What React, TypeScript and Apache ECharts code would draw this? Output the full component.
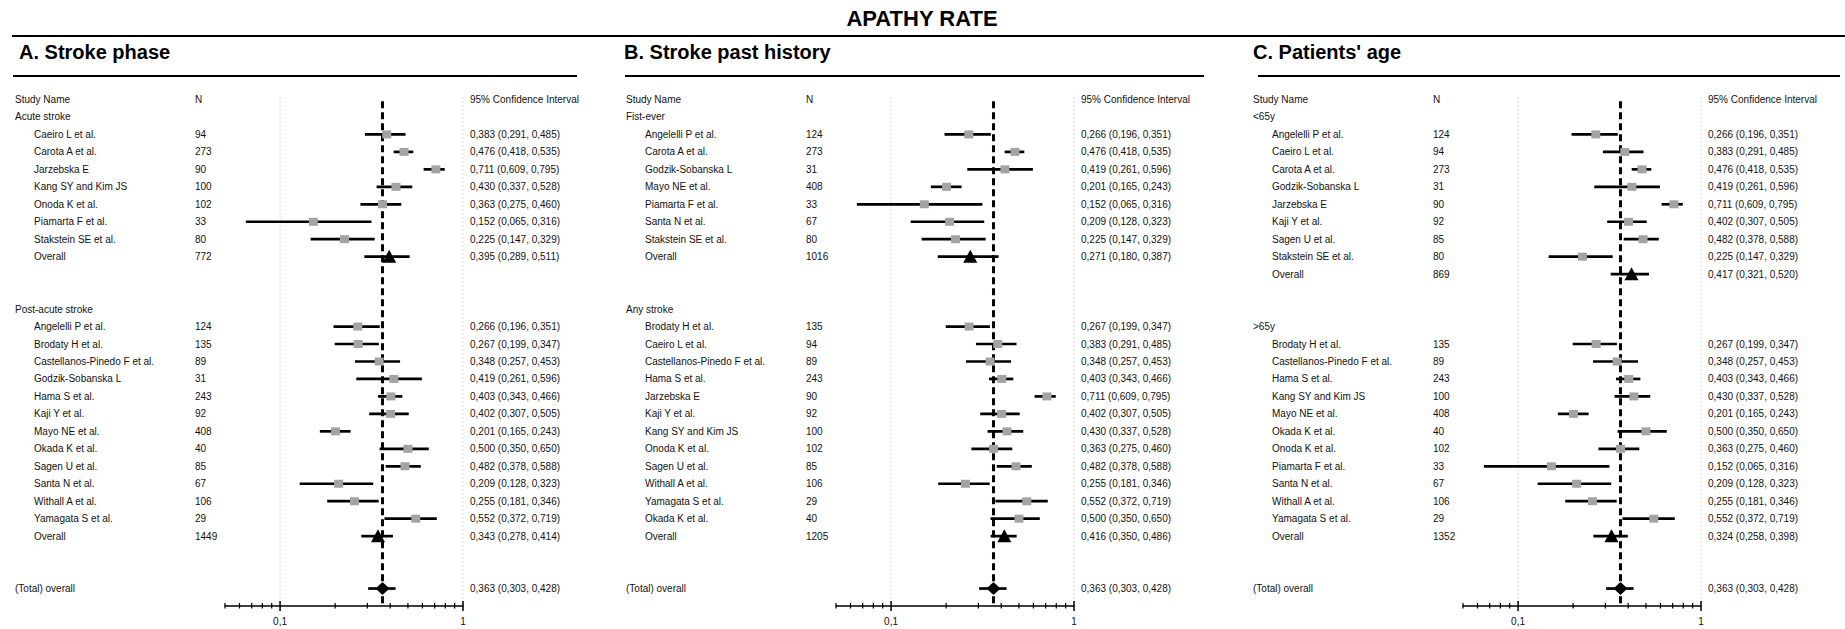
import React, { useEffect, useRef } from "react";
import * as echarts from "echarts";

// [study name, N, estimate, lower 95% CI, upper 95% CI]
type Study = [string, number, number, number, number];

const acuteStroke: Study[] = [
  ["Caeiro L et al.", 94, 0.383, 0.291, 0.485],
  ["Carota A et al.", 273, 0.476, 0.418, 0.535],
  ["Jarzebska E", 90, 0.711, 0.609, 0.795],
  ["Kang SY and Kim JS", 100, 0.43, 0.337, 0.528],
  ["Onoda K et al.", 102, 0.363, 0.275, 0.46],
  ["Piamarta F et al.", 33, 0.152, 0.065, 0.316],
  ["Stakstein SE et al.", 80, 0.225, 0.147, 0.329],
];
const acuteOverall: Study = ["Overall", 772, 0.395, 0.289, 0.511];

const postAcuteStroke: Study[] = [
  ["Angelelli P et al.", 124, 0.266, 0.196, 0.351],
  ["Brodaty H et al.", 135, 0.267, 0.199, 0.347],
  ["Castellanos-Pinedo F et al.", 89, 0.348, 0.257, 0.453],
  ["Godzik-Sobanska L", 31, 0.419, 0.261, 0.596],
  ["Hama S et al.", 243, 0.403, 0.343, 0.466],
  ["Kaji Y et al.", 92, 0.402, 0.307, 0.505],
  ["Mayo NE et al.", 408, 0.201, 0.165, 0.243],
  ["Okada K et al.", 40, 0.5, 0.35, 0.65],
  ["Sagen U et al.", 85, 0.482, 0.378, 0.588],
  ["Santa N et al.", 67, 0.209, 0.128, 0.323],
  ["Withall A et al.", 106, 0.255, 0.181, 0.346],
  ["Yamagata S et al.", 29, 0.552, 0.372, 0.719],
];
const postAcuteOverall: Study = ["Overall", 1449, 0.343, 0.278, 0.414];

const firstEver: Study[] = [
  ["Angelelli P et al.", 124, 0.266, 0.196, 0.351],
  ["Carota A et al.", 273, 0.476, 0.418, 0.535],
  ["Godzik-Sobanska L", 31, 0.419, 0.261, 0.596],
  ["Mayo NE et al.", 408, 0.201, 0.165, 0.243],
  ["Piamarta F et al.", 33, 0.152, 0.065, 0.316],
  ["Santa N et al.", 67, 0.209, 0.128, 0.323],
  ["Stakstein SE et al.", 80, 0.225, 0.147, 0.329],
];
const firstEverOverall: Study = ["Overall", 1016, 0.271, 0.18, 0.387];

const anyStroke: Study[] = [
  ["Brodaty H et al.", 135, 0.267, 0.199, 0.347],
  ["Caeiro L et al.", 94, 0.383, 0.291, 0.485],
  ["Castellanos-Pinedo F et al.", 89, 0.348, 0.257, 0.453],
  ["Hama S et al.", 243, 0.403, 0.343, 0.466],
  ["Jarzebska E", 90, 0.711, 0.609, 0.795],
  ["Kaji Y et al.", 92, 0.402, 0.307, 0.505],
  ["Kang SY and Kim JS", 100, 0.43, 0.337, 0.528],
  ["Onoda K et al.", 102, 0.363, 0.275, 0.46],
  ["Sagen U et al.", 85, 0.482, 0.378, 0.588],
  ["Withall A et al.", 106, 0.255, 0.181, 0.346],
  ["Yamagata S et al.", 29, 0.552, 0.372, 0.719],
  ["Okada K et al.", 40, 0.5, 0.35, 0.65],
];
const anyStrokeOverall: Study = ["Overall", 1205, 0.416, 0.35, 0.486];

const under65: Study[] = [
  ["Angelelli P et al.", 124, 0.266, 0.196, 0.351],
  ["Caeiro L et al.", 94, 0.383, 0.291, 0.485],
  ["Carota A et al.", 273, 0.476, 0.418, 0.535],
  ["Godzik-Sobanska L", 31, 0.419, 0.261, 0.596],
  ["Jarzebska E", 90, 0.711, 0.609, 0.795],
  ["Kaji Y et al.", 92, 0.402, 0.307, 0.505],
  ["Sagen U et al.", 85, 0.482, 0.378, 0.588],
  ["Stakstein SE et al.", 80, 0.225, 0.147, 0.329],
];
const under65Overall: Study = ["Overall", 869, 0.417, 0.321, 0.52];

const over65: Study[] = [
  ["Brodaty H et al.", 135, 0.267, 0.199, 0.347],
  ["Castellanos-Pinedo F et al.", 89, 0.348, 0.257, 0.453],
  ["Hama S et al.", 243, 0.403, 0.343, 0.466],
  ["Kang SY and Kim JS", 100, 0.43, 0.337, 0.528],
  ["Mayo NE et al.", 408, 0.201, 0.165, 0.243],
  ["Okada K et al.", 40, 0.5, 0.35, 0.65],
  ["Onoda K et al.", 102, 0.363, 0.275, 0.46],
  ["Piamarta F et al.", 33, 0.152, 0.065, 0.316],
  ["Santa N et al.", 67, 0.209, 0.128, 0.323],
  ["Withall A et al.", 106, 0.255, 0.181, 0.346],
  ["Yamagata S et al.", 29, 0.552, 0.372, 0.719],
];
const over65Overall: Study = ["Overall", 1352, 0.324, 0.258, 0.398];

const totalOverall: Study = ["(Total) overall", 0, 0.363, 0.303, 0.428];

const X_MIN = 0.05;
const X_MAX = 1;
const MAJOR_TICKS = [0.1, 1];
const MINOR_TICKS = [0.05, 0.06, 0.07, 0.08, 0.09, 0.2, 0.3, 0.4, 0.5, 0.6, 0.7, 0.8, 0.9];
const HEADERS = ["Study Name", "N", "95% Confidence Interval"];
const MAIN_TITLE = "APATHY RATE";
const PANEL_TITLES = ["A. Stroke phase", "B. Stroke past history", "C. Patients' age"];
const GROUP_LABELS = [
  ["Acute stroke", "Post-acute stroke"],
  ["Fist-ever", "Any stroke"],
  ["<65y", ">65y"],
];
const GROUP_STUDIES = [
  [acuteStroke, postAcuteStroke],
  [firstEver, anyStroke],
  [under65, over65],
];
const GROUP_OVERALLS = [
  [acuteOverall, postAcuteOverall],
  [firstEverOverall, anyStrokeOverall],
  [under65Overall, over65Overall],
];

// ---------- layout (pixels) ----------
const GRID_LEFTS = [225, 836, 1463];
const GRID_TOP = 99.5;
const GRID_W = 238;
const GRID_H = 506.5;
const ROW_MAX = 29;
const OFF_NAME = -210;
const OFF_INDENT = 19;
const OFF_N = -30;
const OFF_CI = 245;
const FONT = '"Liberation Sans", Arial, Helvetica, sans-serif';

type Row = { kind: string; r: number; s?: Study; label?: string };

function buildRows(p: number): Row[] {
  const rows: Row[] = [{ kind: "header", r: 0 }];
  let r = 1;
  for (let g = 0; g < 2; g++) {
    rows.push({ kind: "group", r, label: GROUP_LABELS[p][g] });
    r++;
    for (const s of GROUP_STUDIES[p][g]) {
      rows.push({ kind: "study", r, s });
      r++;
    }
    rows.push({ kind: "overall", r, s: GROUP_OVERALLS[p][g] });
    r += 3;
  }
  rows.push({ kind: "total", r, s: totalOverall });
  return rows;
}

const fmt = (v: number) => v.toFixed(3).replace(".", ",");
const ciText = (s: Study) => `${fmt(s[2])} (${fmt(s[3])}, ${fmt(s[4])})`;

function txt(text: string, x: number, y: number, align = "left", size = 10) {
  return {
    type: "text",
    style: {
      text,
      x,
      y,
      fill: "#111",
      fontSize: size,
      fontFamily: FONT,
      align,
      verticalAlign: "middle",
    },
  };
}

export default function App() {
  const ref = useRef<HTMLDivElement>(null);

  useEffect(() => {
    if (!ref.current) return;
    const chart = echarts.init(ref.current, undefined, { renderer: "svg" });

    const grids: any[] = [];
    const xAxes: any[] = [];
    const yAxes: any[] = [];
    const series: any[] = [];

    for (let p = 0; p < 3; p++) {
      grids.push({
        left: GRID_LEFTS[p],
        top: GRID_TOP,
        width: GRID_W,
        height: GRID_H,
        outerBoundsMode: "none",
        containLabel: false,
      });
      xAxes.push({
        gridIndex: p,
        type: "log",
        logBase: 10,
        min: X_MIN,
        max: X_MAX,
        axisLine: { show: true, onZero: false, lineStyle: { color: "#000", width: 1.5 } },
        axisTick: { show: false },
        axisLabel: { show: false },
        splitLine: { show: false },
        minorTick: { show: false },
      });
      yAxes.push({
        gridIndex: p,
        type: "value",
        inverse: true,
        min: 0,
        max: ROW_MAX,
        show: false,
        splitLine: { show: false },
      });

      // major ticks, dotted gridlines, tick labels
      series.push({
        type: "custom",
        xAxisIndex: p,
        yAxisIndex: p,
        clip: false,
        z: 1,
        data: MAJOR_TICKS.map((v) => [v, ROW_MAX]),
        renderItem: (params: any, api: any) => {
          const v = api.value(0);
          const top = api.coord([v, 0]);
          const bot = api.coord([v, ROW_MAX]);
          return {
            type: "group",
            children: [
              {
                type: "line",
                shape: { x1: top[0], y1: top[1] - 2, x2: bot[0], y2: bot[1] },
                style: { stroke: "#b5b5b5", lineWidth: 1, lineDash: [1, 3] },
              },
              {
                type: "line",
                shape: { x1: bot[0], y1: bot[1] - 5, x2: bot[0], y2: bot[1] + 5 },
                style: { stroke: "#000", lineWidth: 1.5 },
              },
              txt(String(v).replace(".", ","), bot[0], bot[1] + 15, "center", 10),
            ],
          };
        },
      });

      // minor ticks
      series.push({
        type: "custom",
        xAxisIndex: p,
        yAxisIndex: p,
        clip: false,
        z: 1,
        data: MINOR_TICKS.map((v) => [v, ROW_MAX]),
        renderItem: (params: any, api: any) => {
          const pt = api.coord([api.value(0), ROW_MAX]);
          return {
            type: "line",
            shape: { x1: pt[0], y1: pt[1] - 3, x2: pt[0], y2: pt[1] + 2.5 },
            style: { stroke: "#000", lineWidth: 1.2 },
          };
        },
      });

      // dashed reference line at total overall estimate
      series.push({
        type: "custom",
        xAxisIndex: p,
        yAxisIndex: p,
        clip: false,
        z: 3,
        data: [[totalOverall[2], 0]],
        renderItem: (params: any, api: any) => {
          const v = api.value(0);
          const a = api.coord([v, 0.1]);
          const b = api.coord([v, ROW_MAX]);
          return {
            type: "line",
            shape: { x1: a[0], y1: a[1], x2: b[0], y2: b[1] },
            style: { stroke: "#000", lineWidth: 3, lineDash: [7, 4] },
          };
        },
      });

      // rows: text columns, CI lines, markers
      const rows = buildRows(p);
      series.push({
        type: "custom",
        xAxisIndex: p,
        yAxisIndex: p,
        clip: false,
        z: 5,
        data: rows.map((row) => (row.s ? [row.s[2], row.r, row.s[3], row.s[4]] : [1, row.r, 1, 1])),
        renderItem: (params: any, api: any) => {
          const row = rows[params.dataIndex];
          const gx = params.coordSys.x;
          const y = api.coord([1, api.value(1)])[1];
          const ch: any[] = [];
          if (row.kind === "header") {
            ch.push(txt(HEADERS[0], gx + OFF_NAME, y));
            ch.push(txt(HEADERS[1], gx + OFF_N, y));
            ch.push(txt(HEADERS[2], gx + OFF_CI, y));
          } else if (row.kind === "group") {
            ch.push(txt(row.label || "", gx + OFF_NAME, y));
          } else if (row.s) {
            const s = row.s;
            const isTotal = row.kind === "total";
            ch.push(txt(s[0], gx + OFF_NAME + (isTotal ? 0 : OFF_INDENT), y));
            if (!isTotal) ch.push(txt(String(s[1]), gx + OFF_N, y));
            ch.push(txt(ciText(s), gx + OFF_CI, y));
            const pe = api.coord([api.value(0), api.value(1)]);
            const lo = api.coord([api.value(2), api.value(1)]);
            const hi = api.coord([api.value(3), api.value(1)]);
            ch.push({
              type: "line",
              shape: { x1: lo[0], y1: y, x2: hi[0], y2: y },
              style: { stroke: "#000", lineWidth: 2.7 },
            });
            if (row.kind === "study") {
              ch.push({
                type: "rect",
                shape: { x: pe[0] - 4.5, y: y - 4, width: 9, height: 8 },
                style: { fill: "#a3a3a3" },
              });
            } else if (row.kind === "overall") {
              ch.push({
                type: "polygon",
                shape: {
                  points: [
                    [pe[0], y - 7],
                    [pe[0] - 7, y + 6],
                    [pe[0] + 7, y + 6],
                  ],
                },
                style: { fill: "#000" },
              });
            } else {
              ch.push({
                type: "polygon",
                shape: {
                  points: [
                    [pe[0], y - 6.5],
                    [pe[0] + 7, y],
                    [pe[0], y + 6.5],
                    [pe[0] - 7, y],
                  ],
                },
                style: { fill: "#000" },
              });
            }
          }
          return { type: "group", children: ch };
        },
      });
    }

    const panelLefts = [19, 624, 1253];
    const ruleSpans = [
      [13, 577],
      [625, 1204],
      [1258, 1840],
    ];
    const graphic: any[] = [
      {
        type: "text",
        x: 922,
        y: 18,
        style: {
          text: MAIN_TITLE,
          fill: "#000",
          fontSize: 22,
          fontWeight: "bold",
          fontFamily: FONT,
          align: "center",
          verticalAlign: "middle",
        },
      },
      {
        type: "line",
        shape: { x1: 12, y1: 36, x2: 1845, y2: 36 },
        style: { stroke: "#000", lineWidth: 2 },
      },
    ];
    for (let p = 0; p < 3; p++) {
      graphic.push({
        type: "text",
        x: panelLefts[p],
        y: 52,
        style: {
          text: PANEL_TITLES[p],
          fill: "#000",
          fontSize: 20,
          fontWeight: "bold",
          fontFamily: FONT,
          align: "left",
          verticalAlign: "middle",
        },
      });
      graphic.push({
        type: "line",
        shape: { x1: ruleSpans[p][0], y1: 76, x2: ruleSpans[p][1], y2: 76 },
        style: { stroke: "#000", lineWidth: 2 },
      });
    }

    chart.setOption({
      animation: false,
      backgroundColor: "#fff",
      grid: grids,
      xAxis: xAxes,
      yAxis: yAxes,
      series,
      graphic,
    });

    return () => chart.dispose();
  }, []);

  return (
    <div
      ref={ref}
      style={{ position: "fixed", left: 0, top: 0, width: 1845, height: 629, background: "#fff" }}
    />
  );
}
